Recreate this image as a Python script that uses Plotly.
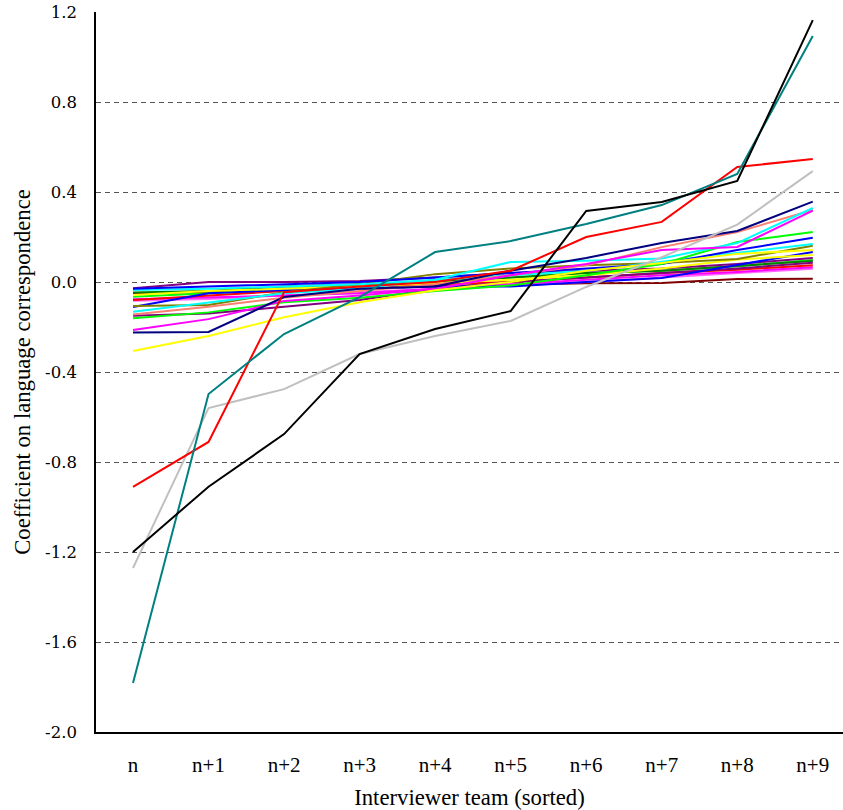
import plotly.graph_objects as go

teams = ["n", "n+1", "n+2", "n+3", "n+4", "n+5", "n+6", "n+7", "n+8", "n+9"]

black = [-1.20, -0.91, -0.676, -0.32, -0.209, -0.129, 0.316, 0.356, 0.449, 1.164]
teal = [-1.782, -0.498, -0.231, -0.067, 0.133, 0.182, 0.258, 0.342, 0.48, 1.093]
red = [-0.911, -0.711, -0.045, -0.02, 0.0, 0.05, 0.2, 0.267, 0.511, 0.547]
silver = [-1.271, -0.56, -0.476, -0.32, -0.24, -0.173, -0.022, 0.11, 0.255, 0.493]
navy = [-0.224, -0.222, -0.067, -0.03, -0.02, 0.05, 0.107, 0.173, 0.227, 0.357]
yellow = [-0.307, -0.24, -0.157, -0.09, -0.037, 0.0, 0.05, 0.084, 0.125, 0.142]
magenta = [-0.213, -0.165, -0.084, -0.06, -0.03, 0.03, 0.08, 0.142, 0.156, 0.317]
salmon = [-0.144, -0.11, -0.07, -0.04, -0.01, 0.03, 0.074, 0.155, 0.222, 0.32]
cyan = [-0.132, -0.09, -0.05, -0.03, 0.01, 0.089, 0.095, 0.105, 0.173, 0.329]
lime = [-0.161, -0.135, -0.09, -0.07, -0.04, -0.015, 0.03, 0.08, 0.178, 0.222]
blue = [-0.03, -0.02, -0.01, 0.0, 0.02, 0.04, 0.06, 0.08, 0.142, 0.197]
cyan2 = [-0.036, -0.03, -0.02, -0.01, 0.01, 0.03, 0.05, 0.09, 0.13, 0.169]
olive = [-0.107, -0.102, -0.045, -0.01, 0.035, 0.06, 0.075, 0.085, 0.102, 0.161]
yellow2 = [-0.058, -0.04, -0.03, -0.02, -0.005, 0.01, 0.03, 0.06, 0.1, 0.12]
blue2 = [-0.111, -0.05, -0.035, -0.03, -0.02, -0.02, 0.0, 0.018, 0.076, 0.133]
purple = [-0.028, 0.0, 0.0, 0.005, 0.02, 0.04, 0.05, 0.06, 0.08, 0.107]
purple2 = [-0.15, -0.14, -0.11, -0.08, -0.03, 0.0, 0.02, 0.04, 0.06, 0.086]
green = [-0.047, -0.04, -0.02, -0.01, 0.0, 0.02, 0.04, 0.05, 0.07, 0.093]
lime2 = [-0.065, -0.05, -0.03, -0.02, 0.0, 0.02, 0.04, 0.05, 0.07, 0.098]
red2 = [-0.08, -0.06, -0.04, -0.02, -0.01, 0.0, 0.02, 0.04, 0.055, 0.074]
magenta2 = [-0.077, -0.07, -0.06, -0.05, -0.03, -0.01, 0.01, 0.03, 0.045, 0.066]
pink = [-0.083, -0.075, -0.06, -0.045, -0.03, -0.015, 0.0, 0.02, 0.04, 0.059]
maroon = [-0.05, -0.045, -0.04, -0.03, -0.018, -0.012, -0.006, -0.004, 0.013, 0.015]

series = [
    ("maroon", maroon, "#800000"),
    ("pink", pink, "#ff66ff"),
    ("magenta2", magenta2, "#ff00ff"),
    ("red2", red2, "#ff0000"),
    ("lime2", lime2, "#00ff00"),
    ("green", green, "#008000"),
    ("purple2", purple2, "#800080"),
    ("purple", purple, "#800080"),
    ("blue2", blue2, "#0000ff"),
    ("yellow2", yellow2, "#ffff00"),
    ("olive", olive, "#808000"),
    ("cyan2", cyan2, "#00ffff"),
    ("blue", blue, "#0000ff"),
    ("lime", lime, "#00ff00"),
    ("salmon", salmon, "#fa8072"),
    ("cyan", cyan, "#00ffff"),
    ("magenta", magenta, "#ff00ff"),
    ("yellow", yellow, "#ffff00"),
    ("navy", navy, "#000080"),
    ("silver", silver, "#c0c0c0"),
    ("red", red, "#ff0000"),
    ("teal", teal, "#008080"),
    ("black", black, "#000000"),
]

yticks = [1.2, 0.8, 0.4, 0.0, -0.4, -0.8, -1.2, -1.6, -2.0]
ytext = ["1.2", "0.8", "0.4", "0.0", "-0.4", "-0.8", "-1.2", "-1.6", "-2.0"]

fig = go.Figure()
for name, vals, col in series:
    fig.add_trace(go.Scatter(x=teams, y=vals, mode="lines", name=name,
                             line=dict(color=col, width=2), showlegend=False))

tickfont = "DejaVu Serif"
titlefont = "Liberation Serif"
fig.update_layout(
    width=843, height=810,
    margin=dict(l=96, r=0, t=12, b=78),
    plot_bgcolor="white", paper_bgcolor="white",
    font=dict(family=tickfont, size=15, color="#000"),
    xaxis=dict(
        range=[-0.49, 9.4], showgrid=False, zeroline=False,
        showline=True, linecolor="#000", linewidth=1.5,
        ticks="outside", ticklen=13, tickcolor="rgba(0,0,0,0)",
        tickfont=dict(family=titlefont, size=21),
        title=dict(text="Interviewer team (sorted)", font=dict(family=titlefont, size=22.7), standoff=13),
    ),
    yaxis=dict(
        range=[-2.0, 1.2], tickvals=yticks, ticktext=ytext,
        showgrid=True, gridcolor="#555", gridwidth=1, griddash="5px,4px",
        zeroline=False, showline=True, linecolor="#000", linewidth=1.5,
        ticks="outside", ticklen=14, tickcolor="rgba(0,0,0,0)",
        tickfont=dict(family=tickfont, size=16.5),
        title=dict(text="Coefficient on language correspondence", font=dict(family=titlefont, size=22.7), standoff=8),
    ),
)
fig.write_html("out.html")
